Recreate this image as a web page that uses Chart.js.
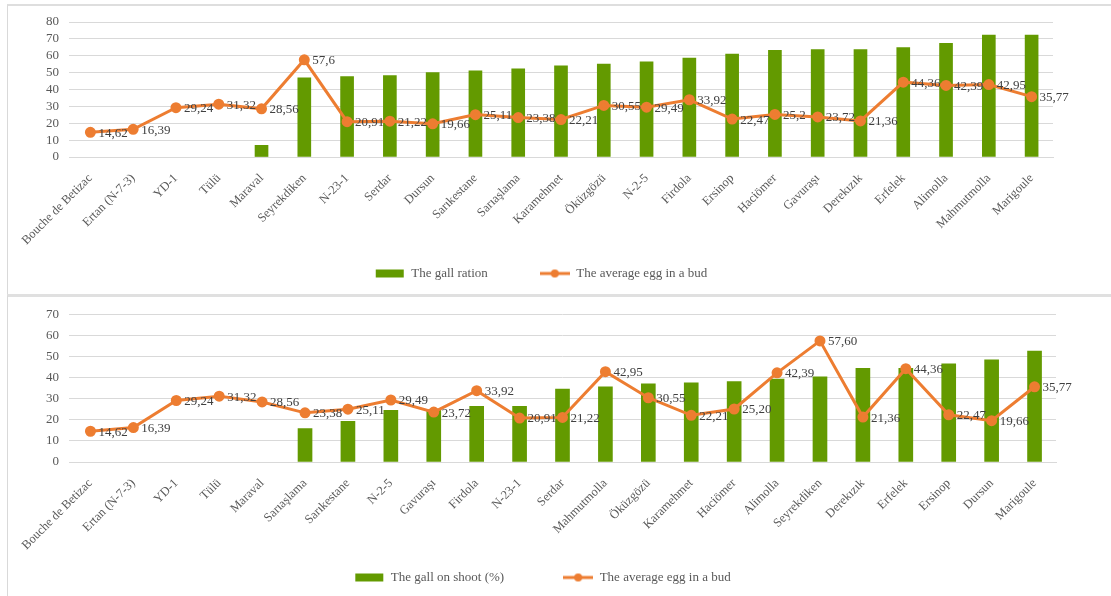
<!DOCTYPE html>
<html>
<head>
<meta charset="utf-8">
<title>Gall ratio and eggs per bud</title>
<script src="https://cdn.jsdelivr.net/npm/chart.js@4.4.0/dist/chart.umd.min.js"></script>
<style>
  html, body { margin: 0; padding: 0; background: #fff; }
  body { width: 1111px; height: 596px; position: relative; overflow: hidden; }
  .panel { position: absolute; left: 7px; right: 0; border-left: 1px solid #d9d9d9; border-top: 2px solid #dedede; }
  #topPanel { top: 4px; height: 290px; }
  #bottomPanel { top: 294px; height: 302px; border-top: 3px solid #e0e0e0; }
  canvas { position: absolute; left: 0; }
  #topChart { top: 0; }
  #bottomChart { top: 297px; }
</style>
</head>
<body>
<div class="panel" id="topPanel"></div>
<div class="panel" id="bottomPanel"></div>
<canvas id="topChart" width="1111" height="294"></canvas>
<canvas id="bottomChart" width="1111" height="299"></canvas>
<script>
// top chart: cultivars ordered by gall ratio
var topNames = ['Bouche de Betizac', 'Ertan (N-7-3)', 'YD-1', 'Tülü', 'Maraval', 'Seyrekdiken', 'N-23-1', 'Serdar', 'Dursun',
  'Sarıkestane', 'Sarıaşlama', 'Karamehmet', 'Öküzgözü', 'N-2-5', 'Firdola', 'Ersinop', 'Haciömer', 'Gavuraşı', 'Derekızık',
  'Erfelek', 'Alimolla', 'Mahmutmolla', 'Marigoule'];
var topGall = [0, 0, 0, 0, 6.9, 46.9, 47.7, 48.3, 50.1, 51.1, 52.3, 54.1, 55.0, 56.4, 58.6, 61.0, 63.2, 63.6, 63.6, 64.9, 67.3, 72.3, 72.3];
var topEgg = [14.62, 16.39, 29.24, 31.32, 28.56, 57.6, 20.91, 21.22, 19.66, 25.11, 23.38, 22.21, 30.55, 29.49, 33.92, 22.47, 25.2,
  23.72, 21.36, 44.36, 42.39, 42.95, 35.77];

// bottom chart: ordered by gall on shoot
var bottomNames = ['Bouche de Betizac', 'Ertan (N-7-3)', 'YD-1', 'Tülü', 'Maraval', 'Sarıaşlama', 'Sarıkestane', 'N-2-5', 'Gavuraşı',
  'Firdola', 'N-23-1', 'Serdar', 'Mahmutmolla', 'Öküzgözü', 'Karamehmet', 'Haciömer', 'Alimolla', 'Seyrekdiken', 'Derekızık',
  'Erfelek', 'Ersinop', 'Dursun', 'Marigoule'];
var bottomGall = [0, 0, 0, 0, 0, 15.9, 19.3, 24.6, 24.8, 26.5, 26.5, 34.7, 35.8, 37.2, 37.7, 38.3, 39.4, 40.5, 44.5, 44.5, 46.7, 48.6, 52.8];
var bottomEgg = [14.62, 16.39, 29.24, 31.32, 28.56, 23.38, 25.11, 29.49, 23.72, 33.92, 20.91, 21.22, 42.95, 30.55, 22.21, 25.20,
  42.39, 57.60, 21.36, 44.36, 22.47, 19.66, 35.77];

var GREEN = '#639a00';
var ORANGE = '#ed7d31';
var FONT = '"Liberation Serif", "DejaVu Serif", serif';
var TXT = '#595959';

function legendIcon(kind) {
  var c = document.createElement('canvas');
  c.width = 30; c.height = 10;
  var g = c.getContext('2d');
  if (kind === 'bar') {
    g.fillStyle = GREEN;
    g.fillRect(1, 1, 28, 8);
  } else {
    g.strokeStyle = ORANGE;
    g.lineWidth = 3;
    g.beginPath(); g.moveTo(0, 5); g.lineTo(30, 5); g.stroke();
    g.fillStyle = ORANGE;
    g.beginPath(); g.arc(15, 5, 4, 0, Math.PI * 2); g.fill();
  }
  return c;
}
var barIcon = legendIcon('bar');
var lineIcon = legendIcon('line');

// writes the value to the right of each point of the line
var pointLabels = {
  id: 'pointLabels',
  afterDatasetsDraw: function(chart, args, opts) {
    var ctx = chart.ctx;
    chart.data.datasets.forEach(function(ds, i) {
      if (ds.type !== 'line') return;
      var meta = chart.getDatasetMeta(i);
      ctx.save();
      ctx.font = '13px ' + FONT;
      ctx.fillStyle = '#404040';
      ctx.textAlign = 'left';
      ctx.textBaseline = 'middle';
      meta.data.forEach(function(pt, j) {
        var v = ds.data[j];
        var s = opts.fixed ? v.toFixed(2) : String(v);
        ctx.fillText(s.replace('.', ','), pt.x + 8, pt.y + 1);
      });
      ctx.restore();
    });
  }
};

function makeChart(id, names, gall, egg, gallLabel, yMax, fixed, barW, xHeight, legendGap, pad) {
  return new Chart(document.getElementById(id), {
    type: 'bar',
    data: {
      labels: names,
      datasets: [{
        type: 'line',
        label: 'The average egg in a bud',
        data: egg,
        borderColor: ORANGE,
        backgroundColor: ORANGE,
        borderWidth: 3,
        pointRadius: 4,
        pointHoverRadius: 4,
        tension: 0,
        order: 0
      }, {
        type: 'bar',
        label: gallLabel,
        data: gall,
        backgroundColor: function(c) { return c.raw ? GREEN : 'rgba(0,0,0,0)'; },
        barThickness: barW,
        order: 1
      }]
    },
    plugins: [pointLabels],
    options: {
      responsive: false,
      animation: false,
      layout: { padding: pad },
      scales: {
        x: {
          grid: { display: false, drawTicks: false },
          border: { color: '#d9d9d9', width: 1 },
          ticks: { color: TXT, font: { family: FONT, size: 12.5 }, minRotation: 45, maxRotation: 45, padding: 14, autoSkip: false },
          afterFit: function(s) { s.height = xHeight; },
          // the slanted names run into the legend band, so don't clip them to the axis box
          afterUpdate: function(s) { s._computeLabelArea = function() {}; }
        },
        y: {
          min: 0, max: yMax,
          grid: { color: '#d9d9d9', lineWidth: 1, drawTicks: false },
          border: { display: false },
          ticks: { stepSize: 10, autoSkip: false, color: TXT, font: { family: FONT, size: 13 }, padding: 10 },
          afterFit: function(s) { s.width = 40; }
        }
      },
      plugins: {
        pointLabels: { fixed: fixed },
        tooltip: { enabled: false },
        legend: {
          position: 'bottom',
          reverse: true,
          labels: {
            color: TXT,
            font: { family: FONT, size: 13 },
            usePointStyle: true,
            pointStyleWidth: 30,
            padding: legendGap,
            generateLabels: function(chart) {
              var items = Chart.defaults.plugins.legend.labels.generateLabels(chart);
              items.forEach(function(it) {
                it.pointStyle = chart.data.datasets[it.datasetIndex].type === 'bar' ? barIcon : lineIcon;
              });
              return items;
            }
          }
        }
      }
    }
  });
}

makeChart('topChart', topNames, topGall, topEgg, 'The gall ration', 80, false, 13, 58, 52,
  { left: 29, right: 58, top: 22, bottom: 4 });
makeChart('bottomChart', bottomNames, bottomGall, bottomEgg, 'The gall on shoot (%)', 70, true, 14, 50, 59,
  { left: 29, right: 55, top: 8, bottom: 2 });
</script>
</body>
</html>
